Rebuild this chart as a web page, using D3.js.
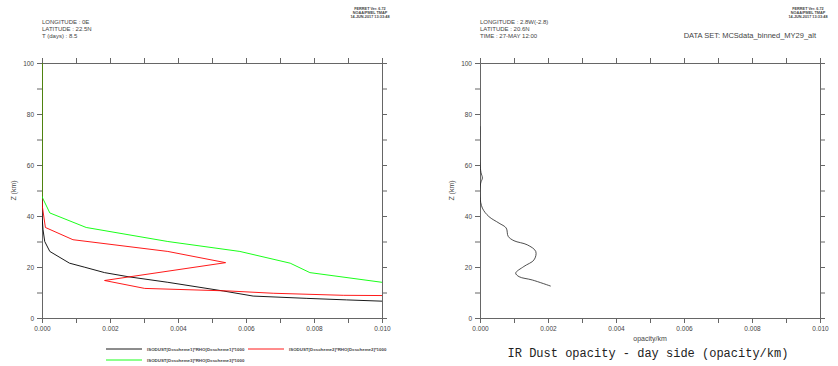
<!DOCTYPE html>
<html>
<head>
<meta charset="utf-8">
<script src="https://cdn.jsdelivr.net/npm/d3@7"></script>
<style>
  body { margin: 0; background: #fff; }
  svg { display: block; font-family: "Liberation Sans", Arial, sans-serif; }
</style>
</head>
<body>
<svg class="chart" width="838" height="366"></svg>
<script>
// Left panel: dust density profiles for three schemes
const scheme1Z = [100, 40, 34.6, 30.0, 26.1, 21.5, 19.9, 17.8, 16.2, 14.0, 10.6, 8.6, 7.7, 7.1, 6.6];
const scheme1V = [0, 0, 0.00003, 0.00008, 0.00023, 0.00081, 0.00126, 0.00184, 0.00253, 0.0037, 0.00533, 0.00621, 0.00779, 0.00896, 0.0100];
const scheme2Z = [100, 46, 43.8, 35.5, 30.7, 26.1, 21.7, 14.7, 11.6, 10.6, 9.7, 8.9, 8.8];
const scheme2V = [0, 0, 0.00001, 0.0001, 0.00091, 0.0037, 0.0054, 0.00184, 0.00302, 0.0055, 0.0068, 0.00886, 0.0100];
const scheme3Z = [100, 48, 47, 41.2, 35.5, 30.0, 26.1, 21.5, 17.8, 14.0];
const scheme3V = [0, 0, 0.00002, 0.00023, 0.0013, 0.0037, 0.00582, 0.0073, 0.00788, 0.0100];
const legendLabels = [
	"ISODUST[D=scheme1]*RHO[D=scheme1]*1000",
	"ISODUST[D=scheme2]*RHO[D=scheme2]*1000",
	"ISODUST[D=scheme3]*RHO[D=scheme3]*1000"
];

// Right panel: MCS observed opacity
const mcsZ = [75.2, 60.8, 57, 54.9, 52.9, 47.7, 43.1, 39.8, 37.2, 35.3, 32.0, 30.3, 28.7, 26.1, 22.8, 20.2, 17.6, 16.2, 14.9, 12.5];
const mcsV = [0, 0, 0.00003, 0.00007, 0.00002, 0, 0.00007, 0.00026, 0.00056, 0.00077, 0.00083, 0.001, 0.00139, 0.00164, 0.00159, 0.00129, 0.00105, 0.00115, 0.00154, 0.00208];

const leftHeader = ["LONGITUDE : 0E", "LATITUDE : 22.5N", "T (days) : 8.5"];
const rightHeader = ["LONGITUDE : 2.8W(-2.8)", "LATITUDE : 20.6N", "TIME : 27-MAY 12:00"];
const stamp = ["FERRET Ver. 6.72", "NOAA/PMEL TMAP", "14-JUN-2017 13:33:48"];

const xDomain = [0, 0.01];
const zDomain = [0, 100];

////////////////////////////////////////////////////////////
//// Setup /////////////////////////////////////////////////
////////////////////////////////////////////////////////////
const svg = d3.select(".chart");
const axisColor = "#666";
const tickLen = 5;

function toPoints(vs, zs) {
	return vs.map((v, i) => ({ v, z: zs[i] }));
}

function drawPanel(left, right, clipId) {
	const x = d3.scaleLinear().domain(xDomain).range([left, right]);
	const y = d3.scaleLinear().domain(zDomain).range([318, 63]);

	svg.append("clipPath").attr("id", clipId)
		.append("rect")
		.attr("x", left).attr("y", 63)
		.attr("width", right - left).attr("height", 255);

	const xTicks = d3.range(0, 11).map(i => i * 0.001);
	const zTicks = d3.range(0, 11).map(i => i * 10);

	const g = svg.append("g");

	// bottom axis with labels every 0.002
	g.append("g")
		.attr("transform", `translate(0,${y(0)})`)
		.call(d3.axisBottom(x).tickValues(xTicks).tickSize(tickLen)
			.tickFormat((d, i) => i % 2 === 0 ? d3.format(".3f")(d) : ""));
	g.append("g")
		.attr("transform", `translate(0,${y(100)})`)
		.call(d3.axisTop(x).tickValues(xTicks).tickSize(tickLen).tickFormat(""));
	g.append("g")
		.attr("transform", `translate(${left},0)`)
		.call(d3.axisLeft(y).tickValues(zTicks).tickSize(tickLen)
			.tickFormat((d, i) => i % 2 === 0 ? d : ""));
	g.append("g")
		.attr("transform", `translate(${right},0)`)
		.call(d3.axisRight(y).tickValues(zTicks).tickSize(tickLen).tickFormat(""));

	g.selectAll(".domain").attr("stroke", axisColor);
	g.selectAll(".tick line").attr("stroke", axisColor);
	g.selectAll(".tick text").attr("fill", "#444").attr("font-size", 6.5);

	svg.append("text")
		.attr("transform", `translate(${left - 26},${y(50)}) rotate(-90)`)
		.attr("text-anchor", "middle")
		.attr("font-size", 7)
		.attr("fill", "#444")
		.text("Z (km)");

	return { x, y };
}

function drawHeader(left, right, lines) {
	svg.append("g").selectAll("text")
		.data(lines)
		.join("text")
		.attr("x", left)
		.attr("y", (d, i) => 24 + i * 7)
		.attr("font-size", 6)
		.attr("fill", "#444")
		.text(d => d);

	svg.append("g").selectAll("text")
		.data(stamp)
		.join("text")
		.attr("x", right - 12)
		.attr("y", (d, i) => 10 + i * 4)
		.attr("text-anchor", "middle")
		.attr("font-size", 3.8)
		.attr("font-weight", "bold")
		.attr("fill", "#444")
		.text(d => d);
}

////////////////////////////////////////////////////////////
//// Left panel ////////////////////////////////////////////
////////////////////////////////////////////////////////////
const L = drawPanel(42, 382, "clipL");
drawHeader(42, 382, leftHeader);

const lineL = d3.line().x(d => L.x(d.v)).y(d => L.y(d.z));
const series = [
	{ pts: toPoints(scheme1V, scheme1Z), color: "#000" },
	{ pts: toPoints(scheme2V, scheme2Z), color: "#ff0000" },
	{ pts: toPoints(scheme3V, scheme3Z), color: "#00ff00" }
];
svg.append("g")
	.attr("clip-path", "url(#clipL)")
	.selectAll("path")
	.data(series)
	.join("path")
	.attr("fill", "none")
	.attr("stroke", d => d.color)
	.attr("stroke-width", 0.9)
	.attr("d", d => lineL(d.pts));

// legend
const legendPos = [[106, 349], [248, 349], [106, 360]];
const legend = svg.append("g").selectAll("g")
	.data(series)
	.join("g")
	.attr("transform", (d, i) => `translate(${legendPos[i][0]},${legendPos[i][1]})`);
legend.append("line")
	.attr("x1", 0).attr("x2", 36)
	.attr("stroke", d => d.color)
	.attr("stroke-width", 0.9);
legend.append("text")
	.attr("x", 41).attr("dy", "0.35em")
	.attr("font-size", 4.4)
	.attr("font-weight", "bold")
	.attr("fill", "#444")
	.text((d, i) => legendLabels[i]);

////////////////////////////////////////////////////////////
//// Right panel ///////////////////////////////////////////
////////////////////////////////////////////////////////////
const R = drawPanel(480, 820, "clipR");
drawHeader(480, 820, rightHeader);

svg.append("text")
	.attr("x", 816).attr("y", 38)
	.attr("text-anchor", "end")
	.attr("font-size", 7.5)
	.attr("fill", "#444")
	.text("DATA SET: MCSdata_binned_MY29_alt");

const lineR = d3.line().x(d => R.x(d.v)).y(d => R.y(d.z)).curve(d3.curveCatmullRom);
svg.append("path")
	.attr("clip-path", "url(#clipR)")
	.attr("fill", "none")
	.attr("stroke", "#222")
	.attr("stroke-width", 0.8)
	.attr("d", lineR(toPoints(mcsV, mcsZ)));

svg.append("text")
	.attr("x", 650).attr("y", 341)
	.attr("text-anchor", "middle")
	.attr("font-size", 7)
	.attr("fill", "#444")
	.text("opacity/km");

svg.append("text")
	.attr("x", 648).attr("y", 357)
	.attr("text-anchor", "middle")
	.attr("font-family", "'Liberation Mono', 'DejaVu Sans Mono', monospace")
	.attr("font-size", 12)
	.attr("fill", "#222")
	.text("IR Dust opacity - day side (opacity/km)");
</script>
</body>
</html>
